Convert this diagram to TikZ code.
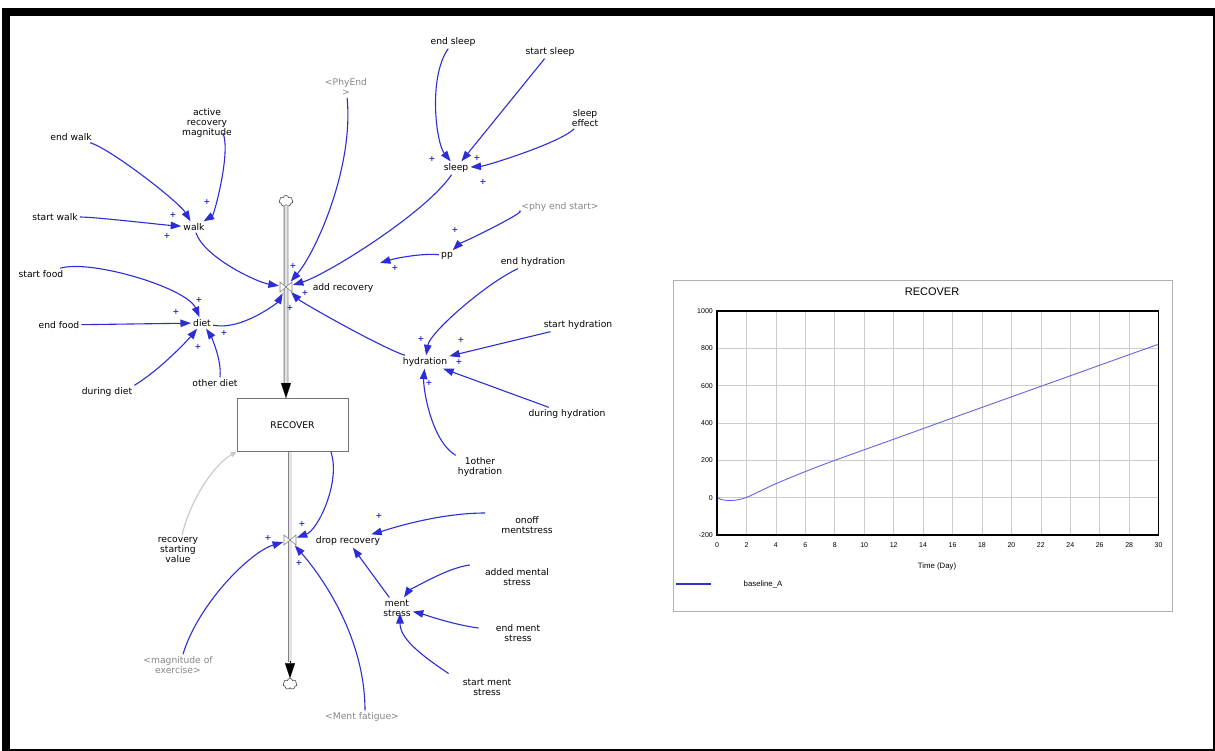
\documentclass[tikz,border=0pt]{standalone}
\usepackage{fontspec}
\setmainfont{DejaVu Sans}
\newfontfamily\chartfont{Liberation Sans}
\usetikzlibrary{arrows.meta,shapes.symbols,calc}
\definecolor{linkblue}{RGB}{45,45,215}
\definecolor{shadowgray}{RGB}{135,135,135}
\definecolor{pipegray}{RGB}{130,130,130}
\definecolor{pipefill}{RGB}{228,228,228}
\definecolor{initgray}{RGB}{200,200,200}
\definecolor{gridgray}{RGB}{205,205,205}
\definecolor{framegray}{RGB}{175,175,175}
\definecolor{curveblue}{RGB}{100,100,230}
\definecolor{legendblue}{RGB}{50,50,200}
\begin{document}
\begin{tikzpicture}[x=1pt,y=-1pt,
  var/.style={font=\fontsize{9.2}{10}\selectfont, align=center, inner sep=2pt},
  shadowvar/.style={var, text=shadowgray},
  link/.style={draw=linkblue, line width=1.1pt, -{Triangle[length=10.5pt,width=7.5pt]}},
  initlink/.style={draw=initgray, line width=1.1pt, -{Triangle[length=6pt,width=5pt]}},
  polarity/.style={text=linkblue, font=\bfseries\fontsize{8}{8}\selectfont, inner sep=0pt},
  pipe/.style={draw=pipegray, line width=0.8pt, double=pipefill, double distance=3pt},
  pipetip/.style={black, line width=0.1pt, -{Triangle[length=15pt,width=10pt]}},
  valve/.style={circle, minimum size=14pt, inner sep=0pt},
  bowtie/.style={draw=pipegray, fill=white, line width=0.6pt},
  sink/.style={cloud, cloud puffs=7, aspect=1.3, draw=black!75, fill=white, line width=0.6pt, minimum width=14pt, minimum height=11pt, inner sep=0pt},
  stock/.style={draw=black!55, line width=0.8pt, fill=white, minimum width=111pt, minimum height=53pt, font=\fontsize{9.2}{10}\selectfont},
  chartbox/.style={draw=framegray, line width=0.8pt},
  plotbox/.style={draw=black, line width=1.4pt},
  gridline/.style={draw=gridgray, line width=0.6pt},
  ticklabel/.style={font=\chartfont\fontsize{7}{7}\selectfont, inner sep=0pt},
  chartlabel/.style={font=\chartfont\fontsize{7.8}{8}\selectfont, inner sep=0pt},
]
\useasboundingbox (0,0) rectangle (1215,751);
\fill[white] (0,0) rectangle (1215,751);
% window frame
\fill[black] (2,8) rectangle (1215,751);
\fill[white] (10,16) rectangle (1213,749);

% ---------------- variables ----------------
\node[var] (endwalk) at (71,137) {end walk};
\node[var] (arm) at (207,123) {active\\recovery\\magnitude};
\node[var] (startwalk) at (55,217) {start walk};
\node[var] (walk) at (194,227) {walk};
\node[var] (startfood) at (41,274) {start food};
\node[var] (endfood) at (59,325) {end food};
\node[var] (diet) at (202,323) {diet};
\node[var] (duringdiet) at (107,392) {during diet};
\node[var] (otherdiet) at (215,383) {other diet};
\node[shadowvar] (phyend) at (346,87) {<PhyEnd\\>};
\node[var] (endsleep) at (453,42) {end sleep};
\node[var] (startsleep) at (550,52) {start sleep};
\node[var] (sleepeffect) at (585,118) {sleep\\effect};
\node[var] (sleep) at (456,168) {sleep};
\node[shadowvar] (phyendstart) at (560,207) {<phy end start>};
\node[var] (pp) at (447,256) {pp};
\node[var] (endhyd) at (533,262) {end hydration};
\node[var] (starthyd) at (578,325) {start hydration};
\node[var] (hyd) at (425,362) {hydration};
\node[var] (duringhyd) at (567,414) {during hydration};
\node[var] (otherhyd) at (480,467) {1other\\hydration};
\node[var] (addrec) at (343,288) {add recovery};
\node[var] (droprec) at (348,541) {drop recovery};
\node[var] (rsv) at (178,550) {recovery\\starting\\value};
\node[shadowvar] (magex) at (178,665) {<magnitude of\\exercise>};
\node[shadowvar] (mentfat) at (362,717) {<Ment fatigue>};
\node[var] (onoff) at (527,525) {onoff\\mentstress};
\node[var] (addedms) at (517,577) {added mental\\stress};
\node[var] (mentstress) at (397,608) {ment\\stress};
\node[var] (endms) at (518,633) {end ment\\stress};
\node[var] (startms) at (487,687) {start ment\\stress};
\coordinate (ppend) at (380,263);

% ---------------- stock and flows ----------------
\node[stock] (recover) at (292.5,425) {RECOVER};
\node[sink] (cloudT) at (286,201) {};
\node[sink] (cloudB) at (290,684) {};
\node[valve] (va) at (286,287) {};
\node[valve] (vd) at (290,540) {};

\draw[pipe, shorten >=14pt] (cloudT.south) -- (recover.north -| cloudT);
\draw[pipetip] ($(recover.north -| cloudT)+(0,-15)$) -- (recover.north -| cloudT);
\draw[pipe, shorten >=16pt] (recover.south -| cloudB) -- (cloudB.north);
\draw[pipetip] ($(cloudB.north)+(0,-17)$) -- (cloudB.north);

\draw[bowtie] ($(va)+(-6,-5)$) -- ($(va)+(6,5)$) -- ($(va)+(6,-5)$) -- ($(va)+(-6,5)$) -- cycle;
\draw[bowtie] ($(vd)+(-6,-5)$) -- ($(vd)+(6,5)$) -- ($(vd)+(6,-5)$) -- ($(vd)+(-6,5)$) -- cycle;

% ---------------- causal links ----------------
\draw[link] (endwalk) .. controls +(40,12) and +(-15,-25) .. (walk);
\draw[link] ([xshift=16pt,yshift=-10pt]arm.center) .. controls +(8,20) and +(20,-12) .. (walk);
\draw[link] (startwalk) .. controls +(40,0) and +(-30,-2) .. (walk);
\draw[link] (walk) .. controls +(10,30) and +(-30,-5) .. (va);

\draw[link] (startfood) .. controls +(50,-15) and +(-15,-35) .. (diet);
\draw[link] (endfood) -- (diet);
\draw[link] (duringdiet.north east) .. controls +(25,-15) and +(-15,18) .. (diet);
\draw[link] ([xshift=5pt]otherdiet.north) .. controls +(2,-20) and +(7,10) .. (diet);
\draw[link] (diet) .. controls +(40,8) and +(-8,15) .. (va);

\draw[link] (phyend) .. controls +(8,80) and +(30,-35) .. (va);
\draw[link] (sleep) .. controls +(-30,45) and +(40,-12) .. (va);
\draw[link] (pp) .. controls +(-20,-3) and +(20,-6) .. (ppend);
\draw[link] (phyendstart) .. controls +(-30,3) and +(10,-10) .. (pp);
\draw[link] (hyd) .. controls +(-45,-15) and +(15,15) .. (va);

\draw[link] (endsleep) .. controls +(-25,35) and +(-20,-25) .. (sleep);
\draw[link] (startsleep) -- (sleep);
\draw[link] (sleepeffect) .. controls +(-25,25) and +(30,-2) .. (sleep);

\draw[link] (endhyd) .. controls +(-45,20) and +(5,-30) .. (hyd);
\draw[link] (starthyd) -- (hyd);
\draw[link] (duringhyd) -- (hyd);
\draw[link] (otherhyd.north west) .. controls +(-25,-15) and +(-2,25) .. (hyd);

\draw[link] (recover.-35) .. controls +(10,30) and +(28,-10) .. (vd);
\draw[initlink] ([xshift=4pt]rsv.north) .. controls +(8,-35) and +(-22,12) .. (recover.south west);
\draw[link] ([xshift=5pt]magex.north) .. controls +(15,-50) and +(-40,12) .. (vd);
\draw[link] ([xshift=3pt]mentfat.north) .. controls +(0,-70) and +(35,40) .. (vd);
\draw[link] (mentstress) -- (droprec);
\draw[link] ([xshift=-14pt,yshift=12pt]onoff.west) .. controls +(-50,0) and +(35,-10) .. (droprec);
\draw[link] ([xshift=-13pt,yshift=12pt]addedms.west) .. controls +(-25,3) and +(10,-15) .. (mentstress);
\draw[link] ([xshift=-15pt,yshift=5pt]endms.west) .. controls +(-25,-3) and +(22,5) .. (mentstress);
\draw[link] ([xshift=-12pt,yshift=3pt]startms.north west) .. controls +(-30,-20) and +(0,25) .. ([xshift=3pt,yshift=-5pt]mentstress.center);

% ---------------- link polarities ----------------
\node[polarity] (pl1) at (207,202) {+};
\node[polarity] (pl2) at (173,215) {+};
\node[polarity] (pl3) at (167,236) {+};
\node[polarity] (pl4) at (199,300) {+};
\node[polarity] (pl5) at (176,312) {+};
\node[polarity] (pl6) at (198,347) {+};
\node[polarity] (pl7) at (224,333) {+};
\node[polarity] (pl8) at (293,266) {+};
\node[polarity] (pl9) at (305,293) {+};
\node[polarity] (pl10) at (290,308) {+};
\node[polarity] (pl11) at (395,268) {+};
\node[polarity] (pl12) at (432,159) {+};
\node[polarity] (pl13) at (477,158) {+};
\node[polarity] (pl14) at (483,182) {+};
\node[polarity] (pl15) at (455,230) {+};
\node[polarity] (pl16) at (421,339) {+};
\node[polarity] (pl17) at (461,340) {+};
\node[polarity] (pl18) at (459,362) {+};
\node[polarity] (pl19) at (429,383) {+};
\node[polarity] (pl20) at (302,524) {+};
\node[polarity] (pl21) at (268,538) {+};
\node[polarity] (pl22) at (299,563) {+};
\node[polarity] (pl23) at (379,516) {+};

% ---------------- graph of RECOVER ----------------
\draw[chartbox] (673,280) rectangle (1172,611);
\node[font=\chartfont\fontsize{11}{12}\selectfont] (ctitle) at (932,292) {RECOVER};
\foreach \i in {1,...,14}
  \draw[gridline] ({717+\i*29.44},311) -- ({717+\i*29.44},535);
\foreach \j in {1,...,5}
  \draw[gridline] (717,{535-\j*37.333}) -- (1158.6,{535-\j*37.333});
\foreach \i [evaluate=\i as \lab using int(2*\i)] in {0,...,15}
  \node[ticklabel] (xt\i) at ({717+\i*29.44},545) {\lab};
\foreach \j [evaluate=\j as \lab using int(200*\j-200)] in {0,...,6}
  \node[ticklabel, anchor=east] (yt\j) at (713,{535-\j*37.333}) {\lab};
\begin{scope}[shift={(717pt,-497.67pt)}, x=14.72pt, y=0.18667pt]
  \draw[curveblue, line width=0.9pt] plot[smooth, tension=0.5] coordinates
    {(0,0) (0.3,-10) (0.7,-15) (1.2,-14) (1.7,-6) (2.2,8) (3,38) (4,75) (6,140)
     (8,200) (12,313) (16,427) (20,540) (24,653) (28,766) (30,822)};
\end{scope}
\draw[plotbox] (717,311) rectangle (1158.6,535);
\node[chartlabel] (xlab) at (937,566) {Time (Day)};
\coordinate (legA) at (676,584);
\coordinate (legB) at (711,584);
\draw[legendblue, line width=1.1pt] (legA) -- (legB);
\node[chartlabel] (legtext) at (763,584) {baseline\_A};
\end{tikzpicture}
\end{document}
